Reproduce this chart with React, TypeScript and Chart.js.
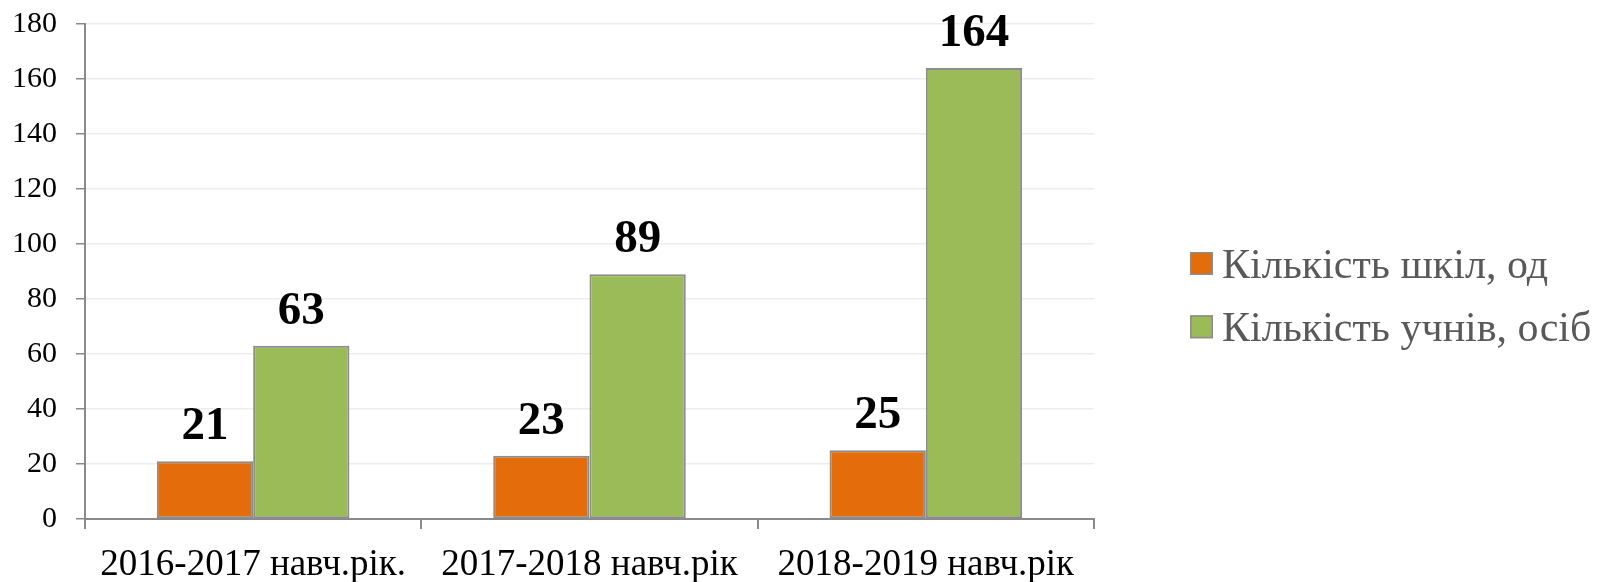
import React, { useEffect, useRef } from "react";
import { Chart, registerables } from "chart.js";

Chart.register(...registerables);

const categories = ["2016-2017 навч.рік.", "2017-2018 навч.рік", "2018-2019 навч.рік"];
const seriesNames = ["Кількість шкіл, од", "Кількість учнів, осіб"];
const schools = [21, 23, 25];
const students = [63, 89, 164];
const seriesColors = ["#E46C0A", "#9BBB59"];
const yMin = 0;
const yMax = 180;
const yStep = 20;

const FONT = "'Liberation Serif', 'Times New Roman', serif";

const valueLabels = {
  id: "valueLabels",
  afterDatasetsDraw(chart: any) {
    const ctx = chart.ctx;
    ctx.save();
    ctx.font = `bold 47px ${FONT}`;
    ctx.fillStyle = "#000000";
    ctx.textAlign = "center";
    ctx.textBaseline = "alphabetic";
    chart.data.datasets.forEach((ds: any, i: number) => {
      const meta = chart.getDatasetMeta(i);
      meta.data.forEach((bar: any, j: number) => {
        ctx.fillText(String(ds.data[j]), bar.x, bar.y - 22);
      });
    });
    ctx.restore();
  },
};

const sideLegend = {
  id: "sideLegend",
  afterDraw(chart: any) {
    const ctx = chart.ctx;
    const area = chart.chartArea;
    ctx.save();
    ctx.font = `42px ${FONT}`;
    ctx.textBaseline = "middle";
    ctx.textAlign = "left";
    const x0 = area.right + 96;
    const gap = 63.3;
    const y0 = area.top + 239.5;
    chart.data.datasets.forEach((ds: any, i: number) => {
      const y = y0 + i * gap;
      ctx.fillStyle = ds.backgroundColor;
      ctx.fillRect(x0, y - 11.5, 23, 23);
      ctx.strokeStyle = "#8C8C8C";
      ctx.lineWidth = 1.5;
      ctx.strokeRect(x0 + 0.75, y - 10.75, 21.5, 21.5);
      ctx.fillStyle = "#595959";
      ctx.fillText(ds.label, x0 + 32, y + 3);
    });
    ctx.restore();
  },
};

export default function App() {
  const ref = useRef<HTMLCanvasElement>(null);

  useEffect(() => {
    if (!ref.current) return;
    const chart = new Chart(ref.current, {
      type: "bar",
      data: {
        labels: categories,
        datasets: [
          {
            label: seriesNames[0],
            data: schools,
            backgroundColor: seriesColors[0],
            borderColor: "#8C8C8C",
            borderWidth: 2,
            borderSkipped: false,
            categoryPercentage: 0.5725,
            barPercentage: 1,
          },
          {
            label: seriesNames[1],
            data: students,
            backgroundColor: seriesColors[1],
            borderColor: "#8C8C8C",
            borderWidth: 2,
            borderSkipped: false,
            categoryPercentage: 0.5725,
            barPercentage: 1,
          },
        ],
      },
      options: {
        responsive: false,
        animation: false,
        layout: { padding: { top: 24, right: 507, left: 0, bottom: 0 } },
        plugins: {
          legend: { display: false },
          tooltip: { enabled: false },
        },
        scales: {
          x: {
            grid: {
              offset: true,
              drawOnChartArea: false,
              drawTicks: true,
              tickLength: 10,
              tickColor: "#8A8A8A",
              lineWidth: 2,
            },
            border: { display: true, color: "#8A8A8A", width: 2 },
            ticks: {
              color: "#000000",
              font: { family: FONT, size: 37 },
              padding: 14,
              maxRotation: 0,
              autoSkip: false,
            },
            afterFit: (scale: any) => {
              scale.height = 63;
              scale.paddingLeft = 0;
              scale.paddingRight = 0;
            },
          },
          y: {
            min: yMin,
            max: yMax,
            ticks: {
              stepSize: yStep,
              color: "#000000",
              font: { family: FONT, size: 30 },
              padding: 19,
            },
            grid: {
              color: "#EDEDED",
              lineWidth: 1.5,
              tickColor: "#8A8A8A",
              tickLength: 9,
            },
            border: { display: true, color: "#8A8A8A", width: 2 },
            afterFit: (scale: any) => {
              scale.width = 85;
              scale.paddingTop = 0;
              scale.paddingBottom = 0;
            },
          },
        },
      },
      plugins: [valueLabels, sideLegend],
    });
    return () => chart.destroy();
  }, []);

  return (
    <div style={{ position: "absolute", left: 0, top: 0, width: 1601, height: 582, background: "#fff" }}>
      <canvas ref={ref} width={1601} height={582} style={{ display: "block" }} />
    </div>
  );
}
